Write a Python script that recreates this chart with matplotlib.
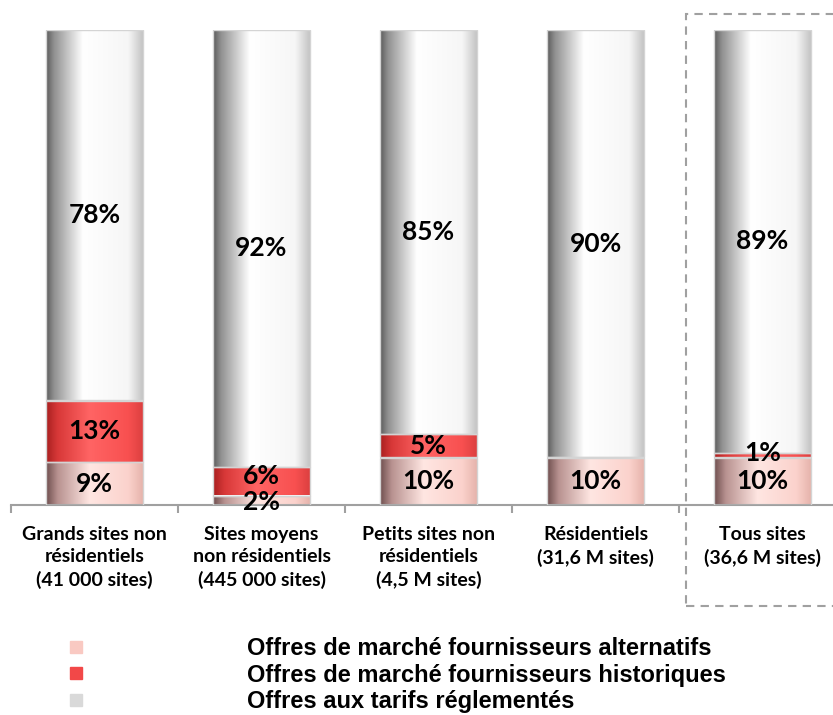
import numpy as np
import matplotlib
matplotlib.use("Agg")
import matplotlib.pyplot as plt
from matplotlib.colors import LinearSegmentedColormap
from matplotlib.lines import Line2D
from matplotlib.patches import Rectangle

categories = ["Grands sites non\nrésidentiels\n(41 000 sites)",
              "Sites moyens\nnon résidentiels\n(445 000 sites)",
              "Petits sites non\nrésidentiels\n(4,5 M sites)",
              "Résidentiels\n(31,6 M sites)",
              "Tous sites\n(36,6 M sites)"]
alternatifs = [9, 2, 10, 10, 10]
historiques = [13, 6, 5, 0, 1]
reglementes = [78, 92, 85, 90, 89]
series_names = ["Offres de marché fournisseurs alternatifs",
                "Offres de marché fournisseurs historiques",
                "Offres aux tarifs réglementés"]
legend_colors = ["#f9c9c2", "#f24848", "#d9d9d9"]

# horizontal gradients to mimic the cylinder look
cmaps = [
    LinearSegmentedColormap.from_list("pink", [(0, "#6e4e4e"), (0.12, "#b89290"), (0.45, "#ffe6e2"),
                                               (0.85, "#fbd2cc"), (1, "#e6b4ac")]),
    LinearSegmentedColormap.from_list("red", [(0, "#a82020"), (0.12, "#d83838"), (0.45, "#ff6464"),
                                              (0.85, "#f85050"), (1, "#dc4040")]),
    LinearSegmentedColormap.from_list("grey", [(0, "#5a5a5a"), (0.08, "#909090"), (0.38, "#ffffff"),
                                               (0.85, "#f6f6f6"), (1, "#c4c4c4")]),
]

fig = plt.figure(figsize=(8.33, 7.15), dpi=100)
ax = fig.add_axes([11 / 833, 1 - 505 / 715, 835 / 833, 475 / 715])

x = np.arange(len(categories))
width = 0.575
grad = np.linspace(0, 1, 256).reshape(1, -1)
bottom = np.zeros(len(categories))
for vals, cmap in zip([alternatifs, historiques, reglementes], cmaps):
    vals = np.array(vals, dtype=float)
    bars = ax.bar(x, vals, width, bottom=bottom, color="none", edgecolor="#d4d4d4", linewidth=1, zorder=3)
    for b in bars:
        if b.get_height() <= 0:
            continue
        x0, y0 = b.get_x(), b.get_y()
        im = ax.imshow(grad, cmap=cmap, aspect="auto", extent=[x0, x0 + b.get_width(), y0, y0 + b.get_height()],
                       zorder=2, interpolation="bicubic")
        im.set_clip_path(b)
    bottom += vals

# labels (small segments nudged so they do not sit on top of each other)
bottom = np.zeros(len(categories))
for vals in [alternatifs, historiques, reglementes]:
    for i, v in enumerate(vals):
        if v > 0:
            yy = bottom[i] + v / 2
            if v == 1:
                yy = bottom[i] + 1.0
            elif v < 8 and bottom[i] > 0 and bottom[i] < 5:
                yy += 1.0
            elif v < 3:
                yy -= 0.3
            ax.text(x[i], yy, f"{v}%", ha="center", va="center", fontsize=19, fontweight="bold",
                    family="Lato", color="black", zorder=5)
    bottom += np.array(vals)

ax.set_xlim(-0.5, len(categories) - 0.5)
ax.set_ylim(0, 100)
for s in ["top", "right", "left"]:
    ax.spines[s].set_visible(False)
ax.spines["bottom"].set_color("#a0a0a0")
ax.spines["bottom"].set_linewidth(1.5)
ax.set_yticks([])
ax.set_xticks(np.arange(-0.5, len(categories), 1))
ax.set_xticklabels([])
ax.tick_params(axis="x", which="major", length=6, width=1.5, color="#a0a0a0", direction="out")
ax.set_xticks(x, minor=True)
ax.set_xticklabels(categories, minor=True, fontsize=14, fontweight="bold", family="Lato", linespacing=1.38)
ax.tick_params(axis="x", which="minor", length=0, pad=15)

# dashed box around "Tous sites"
fig.patches.append(Rectangle((686 / 833, 1 - 606 / 715), 200 / 833, 592 / 715, transform=fig.transFigure,
                             fill=False, edgecolor="#a0a0a0", linestyle=(0, (4, 3)), linewidth=1.5))

handles = [Line2D([], [], marker="s", ls="", color=c, markersize=8) for c in legend_colors]
fig.legend(handles, series_names, loc="upper left", bbox_to_anchor=(55 / 833, 1 - 628 / 715),
           frameon=False, handlelength=1.0, handletextpad=6.75, labelspacing=0.14, borderaxespad=0,
           prop={"family": "Liberation Sans", "weight": "bold", "size": 17})

fig.savefig("out.png", dpi=100)
